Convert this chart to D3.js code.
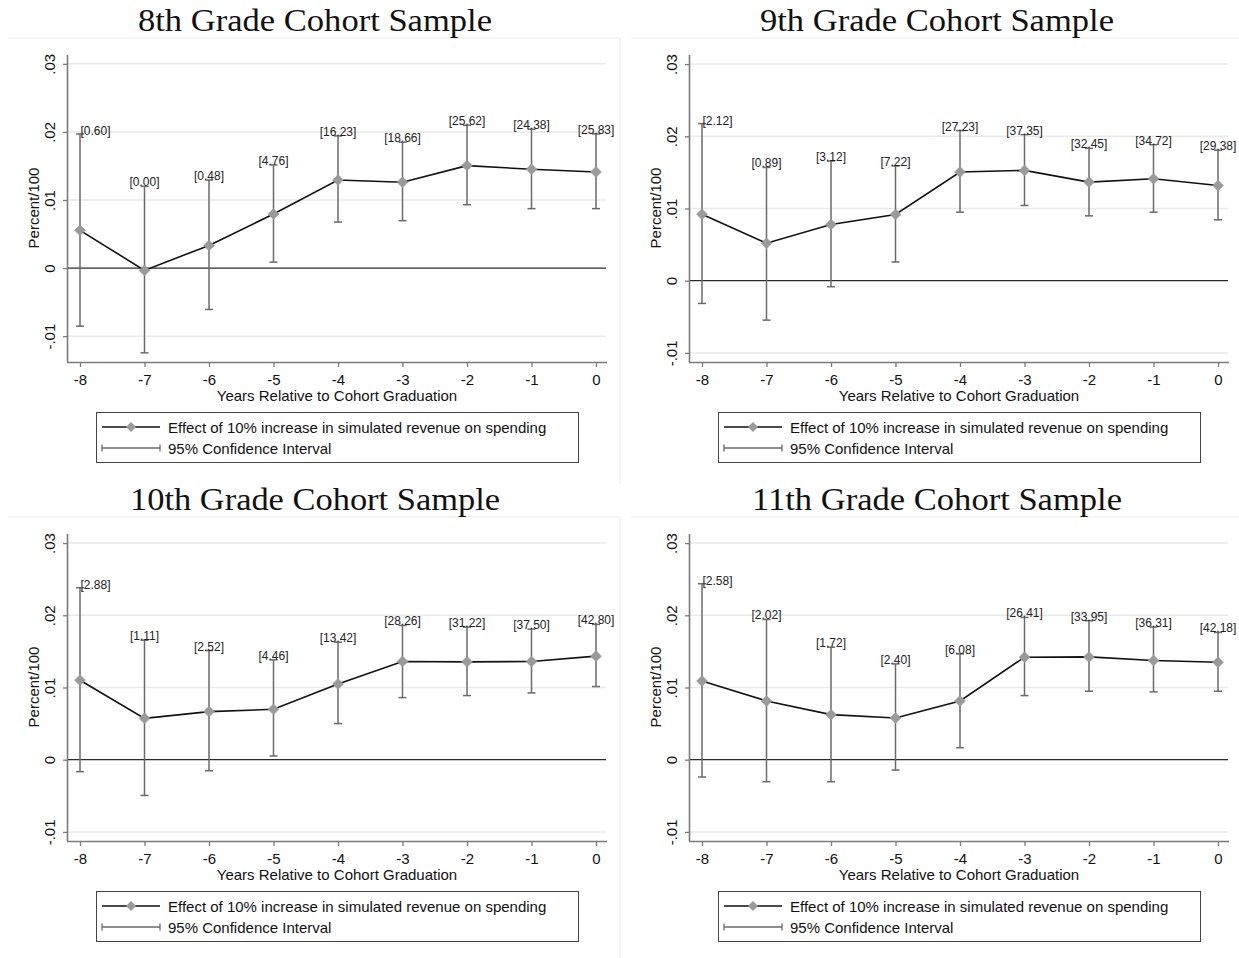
<!DOCTYPE html>
<html>
<head>
<meta charset="utf-8">
<script src="https://cdn.jsdelivr.net/npm/d3@7"></script>
<style>
  html, body { margin: 0; padding: 0; background: #fff; }
  svg { display: block; }
  .sans { font-family: "Liberation Sans", Arial, Helvetica, sans-serif; }
  .serif { font-family: "Liberation Serif", "Times New Roman", serif; }
</style>
</head>
<body>
<svg id="chart" width="1239" height="958"></svg>
<script>
// ---------------- DATA ----------------
const years = [-8, -7, -6, -5, -4, -3, -2, -1, 0];
const xTickLabels = ["-8", "-7", "-6", "-5", "-4", "-3", "-2", "-1", "0"];
const yTicks = [-0.01, 0, 0.01, 0.02, 0.03];
const yTickLabels = ["-.01", "0", ".01", ".02", ".03"];
const titles = ["8th Grade Cohort Sample", "9th Grade Cohort Sample", "10th Grade Cohort Sample", "11th Grade Cohort Sample"];
const xTitle = "Years Relative to Cohort Graduation";
const yTitle = "Percent/100";
const legendLabels = ["Effect of 10% increase in simulated revenue on spending", "95% Confidence Interval"];

// 8th grade cohort
const est8 = [0.00554, -0.00034, 0.00333, 0.00794, 0.01294, 0.01260, 0.01505, 0.01451, 0.01412];
const hi8  = [0.01970, 0.01200, 0.01294, 0.01515, 0.01941, 0.01848, 0.02098, 0.02039, 0.01970];
const lo8  = [-0.00853, -0.01245, -0.00608, 0.00088, 0.00676, 0.00696, 0.00931, 0.00873, 0.00873];
const lab8 = ["[0.60]", "[0.00]", "[0.48]", "[4.76]", "[16.23]", "[18.66]", "[25.62]", "[24.38]", "[25.83]"];

// 9th grade cohort
const est9 = [0.00921, 0.00519, 0.00778, 0.00917, 0.01505, 0.01528, 0.01366, 0.01412, 0.01319];
const hi9  = [0.02176, 0.01569, 0.01657, 0.01588, 0.02079, 0.02023, 0.01833, 0.01884, 0.01806];
const lo9  = [-0.00315, -0.00546, -0.00083, 0.00259, 0.00949, 0.01042, 0.00898, 0.00949, 0.00843];
const lab9 = ["[2.12]", "[0.89]", "[3.12]", "[7.22]", "[27.23]", "[37.35]", "[32.45]", "[34.72]", "[29.38]"];

// 10th grade cohort
const est10 = [0.01101, 0.00573, 0.00666, 0.00698, 0.01050, 0.01360, 0.01355, 0.01360, 0.01434];
const hi10  = [0.02382, 0.01655, 0.01512, 0.01383, 0.01628, 0.01859, 0.01836, 0.01808, 0.01873];
const lo10  = [-0.00166, -0.00495, -0.00153, 0.00051, 0.00500, 0.00860, 0.00888, 0.00925, 0.01013];
const lab10 = ["[2.88]", "[1.11]", "[2.52]", "[4.46]", "[13.42]", "[28.26]", "[31.22]", "[37.50]", "[42.80]"];

// 11th grade cohort
const est11 = [0.01091, 0.00814, 0.00624, 0.00578, 0.00814, 0.01420, 0.01424, 0.01373, 0.01350];
const hi11  = [0.02437, 0.01942, 0.01558, 0.01327, 0.01466, 0.01970, 0.01924, 0.01836, 0.01762];
const lo11  = [-0.00240, -0.00305, -0.00305, -0.00143, 0.00166, 0.00888, 0.00948, 0.00939, 0.00948];
const lab11 = ["[2.58]", "[2.02]", "[1.72]", "[2.40]", "[6.08]", "[26.41]", "[33.95]", "[36.31]", "[42.18]"];

// y-axis ranges of each panel (as drawn by the original)
const yDomains = [[-0.0138, 0.0313], [-0.01126, 0.03126], [-0.01126, 0.03126], [-0.01126, 0.03126]];

const panels = [
  { title: titles[0], est: est8,  lo: lo8,  hi: hi8,  lab: lab8,  yDom: yDomains[0] },
  { title: titles[1], est: est9,  lo: lo9,  hi: hi9,  lab: lab9,  yDom: yDomains[1] },
  { title: titles[2], est: est10, lo: lo10, hi: hi10, lab: lab10, yDom: yDomains[2] },
  { title: titles[3], est: est11, lo: lo11, hi: hi11, lab: lab11, yDom: yDomains[3] }
];

// ---------------- LAYOUT ----------------
const offsets = [[0, 0], [622, 0], [0, 479], [622, 479]];
const plotL = 68, plotR = 606, plotT = 55, plotB = 362;
const xStart = 80, xEnd = 596;

const svg = d3.select("#chart");
svg.append("rect").attr("width", 1239).attr("height", 958).attr("fill", "#fff");

// faint panel separators
const sepColor = "#ececec";
[[8, 38, 620, 38], [631, 38, 1239, 38], [620, 38, 620, 484],
 [8, 517, 620, 517], [631, 517, 1239, 517], [620, 517, 620, 958]].forEach(s => {
  svg.append("line").attr("x1", s[0]).attr("y1", s[1]).attr("x2", s[2]).attr("y2", s[3])
    .attr("stroke", sepColor).attr("stroke-width", 1.2);
});

function diamondPath(cx, cy, r) {
  return `M${cx},${cy - r}L${cx + r},${cy}L${cx},${cy + r}L${cx - r},${cy}Z`;
}

panels.forEach((p, i) => {
  const [dx, dy] = offsets[i];
  const g = svg.append("g").attr("transform", `translate(${dx},${dy})`);

  const x = d3.scaleLinear().domain([years[0], years[years.length - 1]]).range([xStart, xEnd]);
  const y = d3.scaleLinear().domain(p.yDom).range([plotB, plotT]);

  // title
  g.append("text").attr("class", "serif")
    .attr("x", 315).attr("y", 31).attr("text-anchor", "middle")
    .attr("font-size", 32).attr("fill", "#111")
    .attr("textLength", i >= 2 ? 370 : 354).attr("lengthAdjust", "spacingAndGlyphs")
    .text(p.title);

  // gridlines
  g.selectAll(".grid").data(yTicks.filter(t => t !== 0)).enter().append("line")
    .attr("x1", plotL).attr("x2", plotR)
    .attr("y1", d => y(d)).attr("y2", d => y(d))
    .attr("stroke", "#e9e9e9").attr("stroke-width", 1.5);

  // zero line
  g.append("line").attr("x1", plotL).attr("x2", plotR)
    .attr("y1", y(0)).attr("y2", y(0))
    .attr("stroke", "#2a2a2a").attr("stroke-width", 1.3);

  // y axis
  const yAxis = d3.axisLeft(y).tickValues(yTicks)
    .tickFormat((d, k) => yTickLabels[k]).tickSize(5).tickPadding(4);
  const ya = g.append("g").attr("transform", `translate(${plotL},0)`).call(yAxis);
  ya.select(".domain").attr("d", `M-0.5,${plotT}V${plotB}`).attr("stroke", "#7a7a7a").attr("stroke-width", 1.6);
  ya.selectAll(".tick line").attr("stroke", "#7a7a7a").attr("stroke-width", 1.3);
  ya.selectAll(".tick text")
    .attr("class", "sans").attr("font-size", 15).attr("fill", "#111")
    .attr("x", 0).attr("dy", 0)
    .attr("transform", "translate(-13,0) rotate(-90)")
    .attr("text-anchor", "middle");

  // x axis
  const xAxis = d3.axisBottom(x).tickValues(years)
    .tickFormat((d, k) => xTickLabels[k]).tickSize(5).tickPadding(7);
  const xa = g.append("g").attr("transform", `translate(0,${plotB})`).call(xAxis);
  xa.select(".domain").attr("d", `M${plotL - 1},0.5H${plotR + 1}`).attr("stroke", "#7a7a7a").attr("stroke-width", 1.6);
  xa.selectAll(".tick line").attr("stroke", "#7a7a7a").attr("stroke-width", 1.3);
  xa.selectAll(".tick text").attr("class", "sans").attr("font-size", 15).attr("fill", "#111");

  // axis titles
  g.append("text").attr("class", "sans")
    .attr("transform", `translate(39,208) rotate(-90)`)
    .attr("text-anchor", "middle").attr("font-size", 15).attr("fill", "#111")
    .text(yTitle);
  g.append("text").attr("class", "sans")
    .attr("x", 337).attr("y", 401).attr("text-anchor", "middle")
    .attr("font-size", 15).attr("fill", "#111")
    .text(xTitle);

  const rows = years.map((yr, k) => ({ yr, est: p.est[k], lo: p.lo[k], hi: p.hi[k], lab: p.lab[k], k }));

  // confidence intervals
  const ci = g.append("g").attr("stroke", "#6a6a6a").attr("stroke-width", 1.5).attr("fill", "none");
  rows.forEach(r => {
    ci.append("line").attr("x1", x(r.yr)).attr("x2", x(r.yr)).attr("y1", y(r.lo)).attr("y2", y(r.hi));
    ci.append("line").attr("x1", x(r.yr) - 4).attr("x2", x(r.yr) + 4).attr("y1", y(r.lo)).attr("y2", y(r.lo));
    ci.append("line").attr("x1", x(r.yr) - 4).attr("x2", x(r.yr) + 4).attr("y1", y(r.hi)).attr("y2", y(r.hi));
  });

  // estimate line
  const line = d3.line().x(d => x(d.yr)).y(d => y(d.est));
  g.append("path").datum(rows).attr("d", line)
    .attr("fill", "none").attr("stroke", "#111").attr("stroke-width", 1.6);

  // diamonds
  g.selectAll(".pt").data(rows).enter().append("path")
    .attr("d", d => diamondPath(x(d.yr), y(d.est), 5.5))
    .attr("fill", "#9a9a9a").attr("stroke", "#9a9a9a").attr("stroke-width", 0.5);

  // value labels
  g.selectAll(".lab").data(rows).enter().append("text")
    .attr("class", "sans").attr("font-size", 12).attr("fill", "#222")
    .attr("x", d => d.k === 0 ? x(d.yr) + 0.5 : x(d.yr))
    .attr("y", d => y(d.hi) + (d.k === 0 ? 1.5 : 0))
    .attr("text-anchor", d => d.k === 0 ? "start" : "middle")
    .text(d => d.lab);

  // legend
  const lg = g.append("g");
  lg.append("rect").attr("x", 96.5).attr("y", 412.5).attr("width", 482).attr("height", 50)
    .attr("fill", "none").attr("stroke", "#444").attr("stroke-width", 1);
  lg.append("line").attr("x1", 102).attr("x2", 160).attr("y1", 427).attr("y2", 427)
    .attr("stroke", "#111").attr("stroke-width", 1.6);
  lg.append("path").attr("d", diamondPath(131, 427, 5)).attr("fill", "#9a9a9a");
  lg.append("line").attr("x1", 102).attr("x2", 160).attr("y1", 448).attr("y2", 448)
    .attr("stroke", "#6a6a6a").attr("stroke-width", 1.5);
  [102, 160].forEach(xx => lg.append("line").attr("x1", xx).attr("x2", xx).attr("y1", 444.5).attr("y2", 451.5)
    .attr("stroke", "#6a6a6a").attr("stroke-width", 1.3));
  legendLabels.forEach((t, k) => {
    lg.append("text").attr("class", "sans").attr("x", 168).attr("y", 432.5 + k * 21)
      .attr("font-size", 15).attr("fill", "#111").text(t);
  });
});
</script>
</body>
</html>
